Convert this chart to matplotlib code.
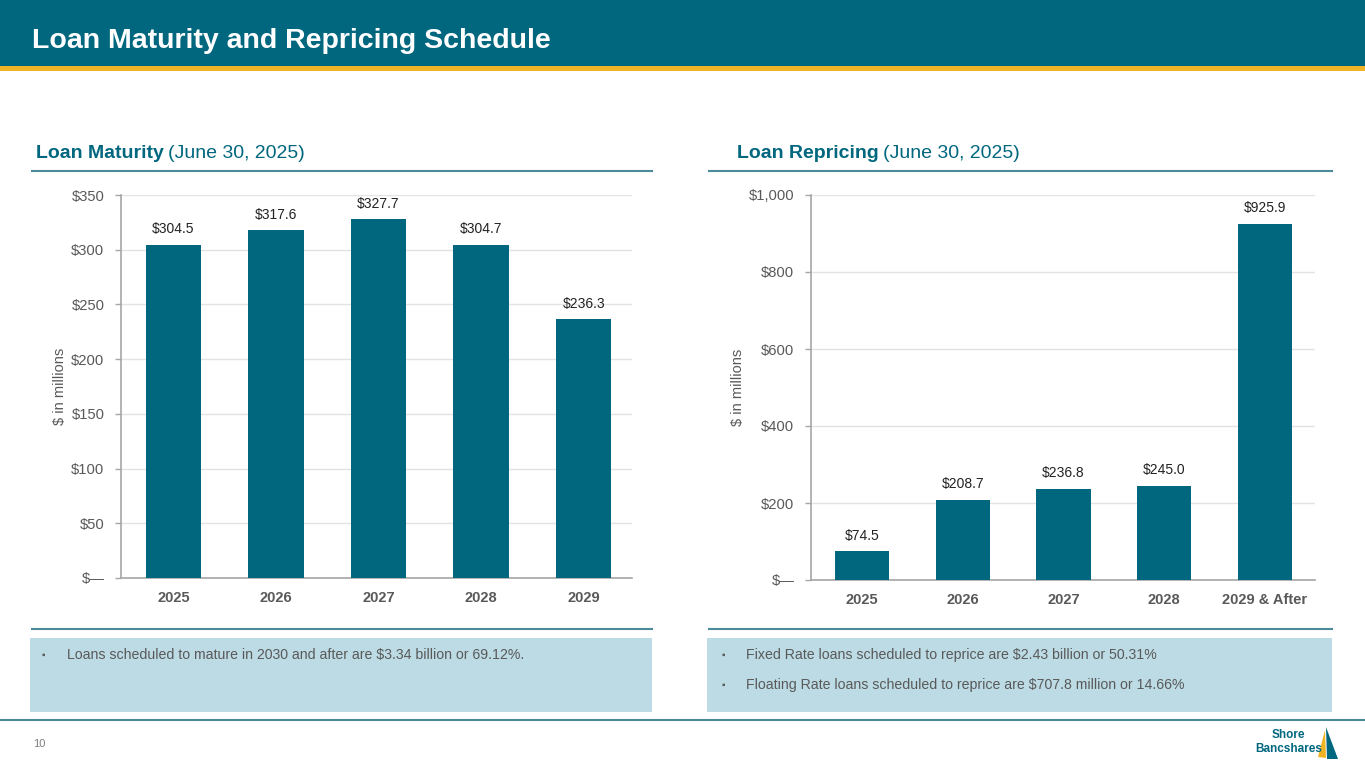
import matplotlib.pyplot as plt
from matplotlib.patches import Rectangle, Polygon
from matplotlib.ticker import FuncFormatter

plt.rcParams['font.family'] = ['Liberation Sans', 'DejaVu Sans']

# data
maturity_years = ['2025', '2026', '2027', '2028', '2029']
maturity_values = [304.5, 317.6, 327.7, 304.7, 236.3]

repricing_years = ['2025', '2026', '2027', '2028', '2029 & After']
repricing_values = [74.5, 208.7, 236.8, 245.0, 925.9]

title = 'Loan Maturity and Repricing Schedule'
left_notes = ['Loans scheduled to mature in 2030 and after are $3.34 billion or 69.12%.']
right_notes = ['Fixed Rate loans scheduled to reprice are $2.43 billion or 50.31%',
               'Floating Rate loans scheduled to reprice are $707.8 million or 14.66%']

TEAL = '#00677f'
GOLD = '#f0b323'
GRAY = '#595959'
BOX = '#bddbe5'
LINE = '#4a8a99'

W, H = 1365, 768
fig = plt.figure(figsize=(W / 100, H / 100), dpi=100)

# overlay in pixel coords for the slide decorations
deco = fig.add_axes([0, 0, 1, 1])
deco.set_xlim(0, W)
deco.set_ylim(H, 0)
deco.axis('off')

deco.add_patch(Rectangle((0, 0), W, 66, color=TEAL, lw=0))
deco.add_patch(Rectangle((0, 66), W, 5, color=GOLD, lw=0))
deco.text(32, 41, title, color='white', fontsize=20.5, fontweight='bold', va='center')


def section_title(x, bold, rest):
    t = deco.text(x, 153, bold, color=TEAL, fontsize=14, fontweight='bold', va='center')
    fig.canvas.draw()
    bb = t.get_window_extent()
    x2 = bb.x1 + 4
    deco.text(x2, 153, rest, color=TEAL, fontsize=14, va='center')


section_title(36, 'Loan Maturity', '(June 30, 2025)')
section_title(737, 'Loan Repricing', '(June 30, 2025)')

for x0, x1 in [(32, 652), (709, 1332)]:
    deco.plot([x0, x1], [171, 171], color=LINE, lw=1.5)
    deco.plot([x0, x1], [629, 629], color=LINE, lw=1.5)
    deco.add_patch(Rectangle((x0 - 2, 638), x1 - x0 + 2, 74, color=BOX, lw=0))

deco.plot([0, W], [720, 720], color=LINE, lw=1.5)

for i, note in enumerate(left_notes):
    deco.text(42, 655 + i * 30, '▪', color=GRAY, fontsize=7, va='center')
    deco.text(67, 655 + i * 30, note, color=GRAY, fontsize=10.2, va='center')
for i, note in enumerate(right_notes):
    deco.text(721, 655 + i * 30, '▪', color=GRAY, fontsize=7, va='center')
    deco.text(746, 655 + i * 30, note, color=GRAY, fontsize=10.2, va='center')

deco.text(33, 744, '10', color='#7f7f7f', fontsize=8, va='center')

# logo
deco.text(1288, 735, 'Shore', color=TEAL, fontsize=8.5, fontweight='bold', ha='center', va='center')
deco.text(1289, 749, 'Bancshares', color=TEAL, fontsize=8.5, fontweight='bold', ha='center', va='center')
deco.add_patch(Polygon([(1326, 727), (1338, 759), (1327, 759)], color=TEAL, lw=0))
deco.add_patch(Polygon([(1325, 730), (1326, 758), (1318, 757)], color=GOLD, lw=0))


def money(v, pos):
    if v == 0:
        return '$—'
    return '${:,.0f}'.format(v)


def bar_panel(rect, cats, vals, ymax, step, xlim, label_x):
    l, t, r, b = rect
    ax = fig.add_axes([l / W, (H - b) / H, (r - l) / W, (b - t) / H])
    ax.patch.set_alpha(0)
    x = range(len(cats))
    bars = ax.bar(x, vals, width=0.54, color=TEAL, zorder=3)
    for bar, v in zip(bars, vals):
        ax.annotate('${:,.1f}'.format(v), (bar.get_x() + bar.get_width() / 2, v),
                    xytext=(0, 6), textcoords='offset points', ha='center', va='bottom',
                    fontsize=10, color='#222222')
    ax.set_ylim(0, ymax)
    ax.set_xlim(*xlim)
    ax.set_yticks(range(0, ymax + 1, step))
    ax.yaxis.set_major_formatter(FuncFormatter(money))
    ax.set_xticks(list(x))
    ax.set_xticklabels(cats, fontweight='bold')
    ax.tick_params(axis='x', length=0, pad=9, labelsize=10.5, labelcolor=GRAY)
    ax.tick_params(axis='y', length=4, width=1, color='#a6a6a6', pad=8, labelsize=10.6, labelcolor=GRAY)
    ax.yaxis.grid(True, color='#e3e3e3', lw=1, zorder=0)
    for s in ['top', 'right']:
        ax.spines[s].set_visible(False)
    for s in ['left', 'bottom']:
        ax.spines[s].set_color('#a6a6a6')
        ax.spines[s].set_linewidth(1.2)
    ax.set_ylabel('$ in millions', fontsize=10.5, color=GRAY)
    ax.yaxis.set_label_coords(label_x, 0.5)
    return ax


bar_panel((121, 195, 632, 578), maturity_years, maturity_values, 350, 50, (-0.51, 4.47), -0.105)
bar_panel((811, 195, 1315, 580), repricing_years, repricing_values, 1000, 200, (-0.51, 4.5), -0.13)

fig.savefig('out.png', dpi=100)
